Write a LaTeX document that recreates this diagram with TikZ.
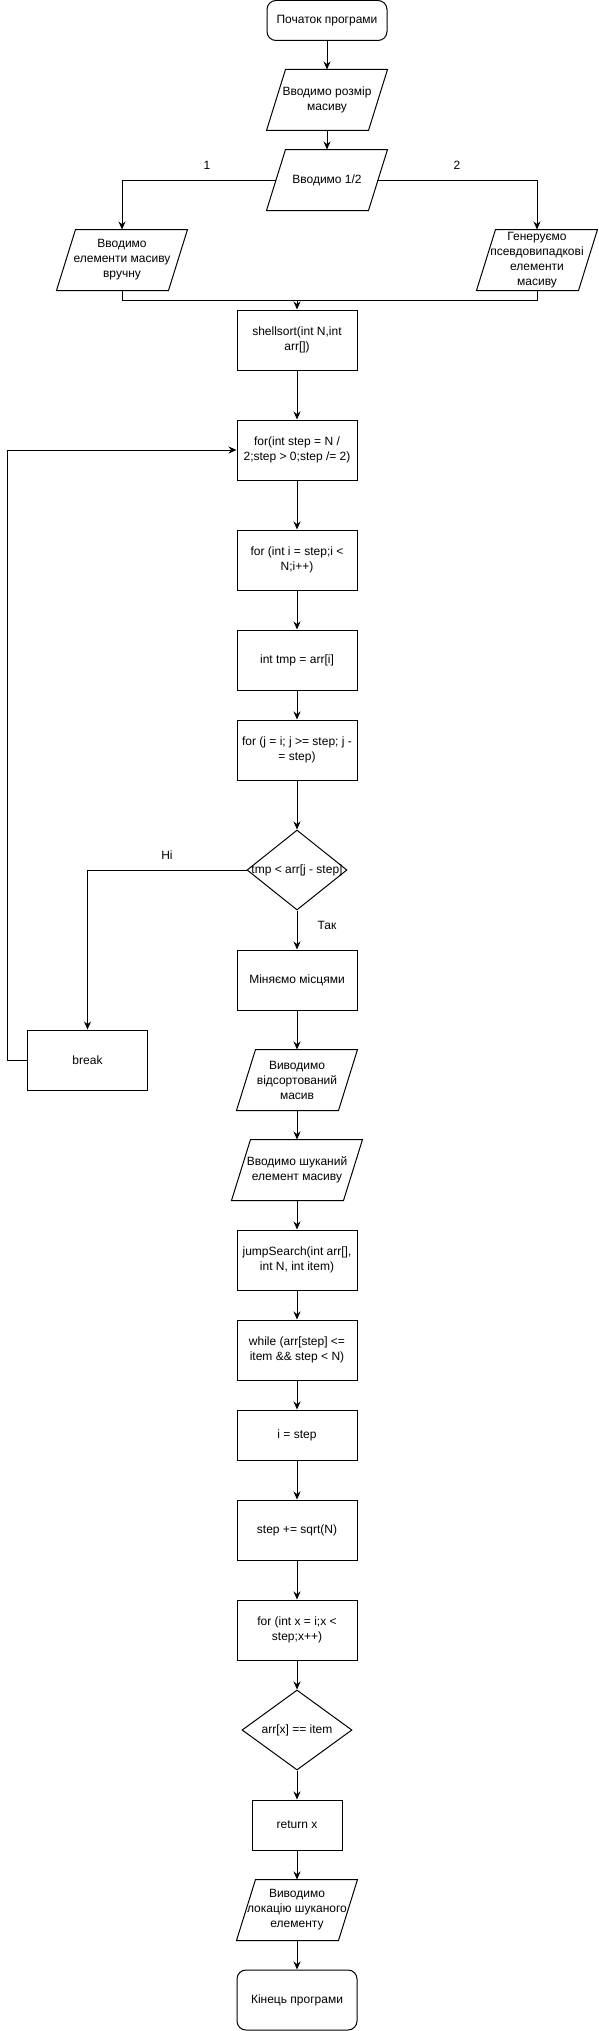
\documentclass[tikz,border=0pt]{standalone}
\usepackage{fontspec}
\setmainfont{Liberation Sans}
\usetikzlibrary{shapes.geometric,arrows.meta}

\newcommand{\overtext}[1]{\smash{\makebox[0pt]{\raisebox{-.25em}{\begin{tabular}{@{}c@{}}#1\end{tabular}}}}}

\begin{document}
\begin{tikzpicture}[x=1pt,y=-1pt,line width=1pt,>={Stealth[length=8pt,width=7pt]},
every node/.style={font=\fontsize{12}{15}\selectfont,align=center,inner sep=0pt},
box/.style={draw,rectangle,minimum width=120pt,minimum height=60pt},
term/.style={box,rounded corners=9pt},
io/.style={rectangle,minimum width=120pt,minimum height=60pt,append after command={\pgfextra{\draw(\tikzlastnode.south west)--([xshift=19pt]\tikzlastnode.north west)--(\tikzlastnode.north east)--([xshift=-19pt]\tikzlastnode.south east)--cycle;}}},
cond/.style={draw,diamond,minimum width=100pt,minimum height=80pt}]

\useasboundingbox(0,0)rectangle(598,2031);

\node[term,minimum height=40pt](start)at(327,20.5){Початок програми};
\node[io](size)at(327,100){Вводимо розмір\\масиву};
\node[io](choose)at(327,180){Вводимо 1/2};
\node[io,minimum width=130pt](manual)at(122,260){Вводимо\\елементи масиву\\вручну};
\node[io](gen)at(537,260){Генеруємо\\псевдовипадкові\\елементи\\масиву};
\node[box](sort)at(297,340){shellsort(int N,int\\arr[])};

\node[box](outer)at(297,450){for(int step = N /\\2;step > 0;step /= 2)};
\node[box](inner)at(297,560){for (int i = step;i <\\N;i++)};
\node[box](tmp)at(297,660){int tmp = arr[i]};
\node[box](back)at(297,750){for (j = i; j >= step; j -\\= step)};
\node[cond](less)at(297,870){\overtext{tmp < arr[j - step]}};
\node[box](swap)at(297,980){Міняємо місцями};
\node[box](brk)at(87.5,1060){break};

\node[io](out)at(297,1080){Виводимо\\відсортований\\масив};
\node[io,minimum width=130pt](item)at(297,1170){Вводимо шуканий\\елемент масиву};
\node[box](jump)at(297,1260){jumpSearch(int arr[],\\int N, int item)};
\node[box](while)at(297,1350){while (arr[step] <=\\item \&\& step < N)};
\node[box,minimum height=50pt](istep)at(297,1435){i = step};
\node[box](inc)at(297,1530){step += sqrt(N)};
\node[box](scan)at(297,1630){for (int x = i;x <\\step;x++)};
\node[cond,minimum width=110pt](equal)at(297,1730){\overtext{arr[x] == item}};
\node[box,minimum width=90pt,minimum height=50pt](ret)at(297,1825){return x};
\node[io](found)at(297,1910){Виводимо\\локацію шуканого\\елементу};
\node[term](finish)at(297,2000){Кінець програми};

\node(one)at(207,165){1};
\node(two)at(457,165){2};
\node(no)at(167,855){Ні};
\node(yes)at(327,925){Так};
\coordinate(join)at(297,300);

\draw[->](start)--(size);
\draw[->](size)--(choose);
\draw[->]([xshift=9.5pt]choose.west)-|(manual.north);
\draw[->]([xshift=-9.5pt]choose.east)-|(gen.north);
\draw(manual.south)|-(join);
\draw(gen.south)|-(join);
\draw[->](join)--(sort);

\draw[->](sort)--(outer);
\draw[->](outer)--(inner);
\draw[->](inner)--(tmp);
\draw[->](tmp)--(back);
\draw[->](back)--(less);
\draw[->](less.west)-|(brk.north);
\draw[->](less)--(swap);
\draw[->](brk.west)--++(-19.5,0)|-(outer.west);

\draw[->](swap)--(out);
\draw[->](out)--(item);
\draw[->](item)--(jump);
\draw[->](jump)--(while);
\draw[->](while)--(istep);
\draw[->](istep)--(inc);
\draw[->](inc)--(scan);
\draw[->](scan)--(equal);
\draw[->](equal)--(ret);
\draw[->](ret)--(found);
\draw[->](found)--(finish);

\end{tikzpicture}
\end{document}
